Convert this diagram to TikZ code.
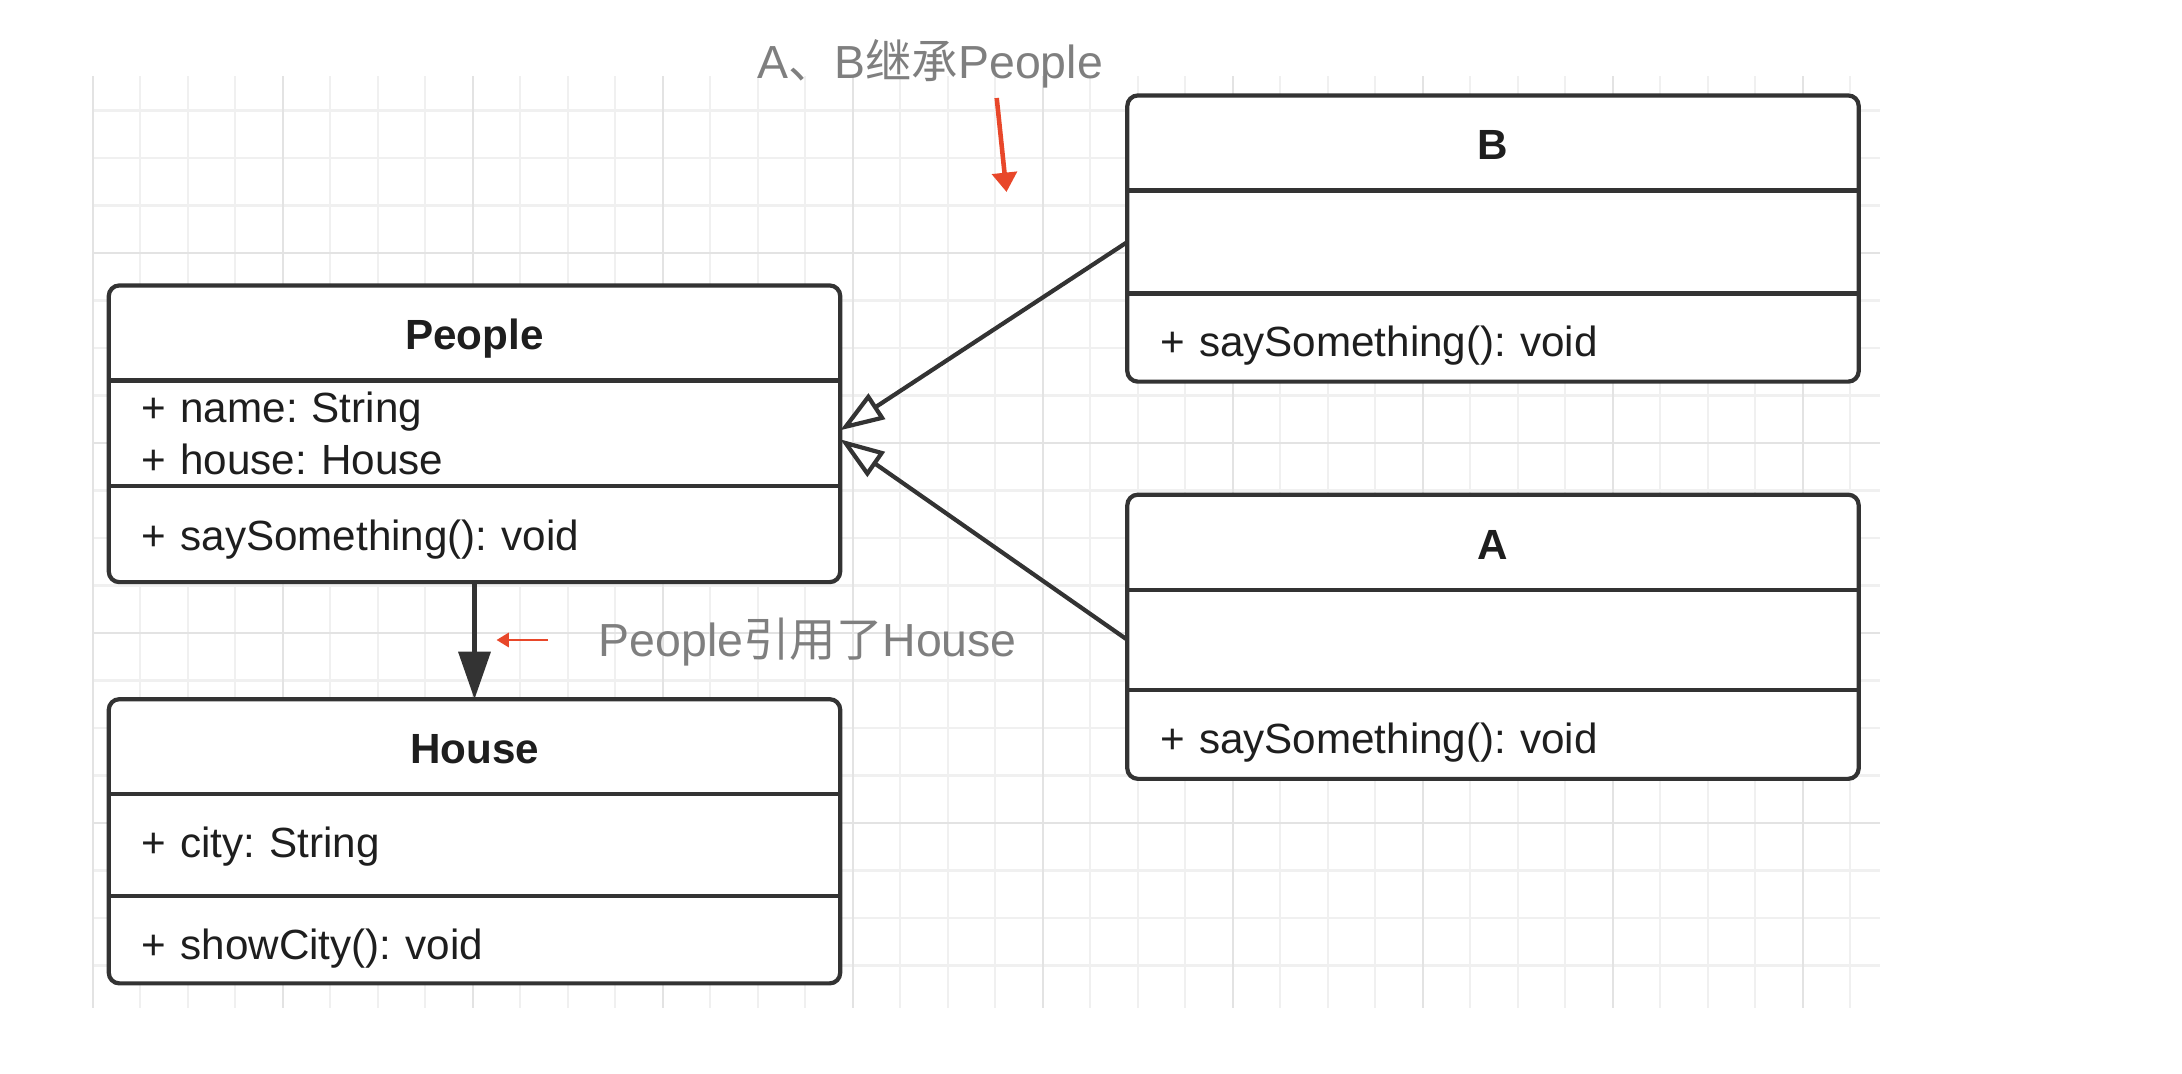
\documentclass[tikz,border=0pt]{standalone}
\usepackage{fontspec}
\setmainfont{Liberation Sans}
\newfontfamily\cjk{Noto Sans CJK SC}
\usetikzlibrary{arrows.meta,positioning,backgrounds}
\definecolor{umlline}{HTML}{333333}
\definecolor{umltext}{HTML}{1E1E1E}
\definecolor{notegray}{HTML}{7F7F7F}
\definecolor{notered}{HTML}{E8472A}
\definecolor{gridminor}{HTML}{F0F0F0}
\definecolor{gridmajor}{HTML}{E3E3E3}
\frenchspacing
\tikzset{
  classhead/.style={minimum width=7.31cm, minimum height=0.95cm, inner sep=0pt, outer sep=0pt,
    text height=10.6pt, text depth=1pt, font=\fontsize{12}{15}\selectfont\bfseries, text=umltext},
  classpart/.style={text width=6.65cm, inner xsep=0.33cm, inner ysep=0pt, outer sep=0pt,
    align=left, font=\fontsize{12}{15}\selectfont, text=umltext},
  classline/.style={classpart, text height=14pt, text depth=3pt},
  frame/.style={draw=umlline, line width=1.2pt, rounded corners=3pt},
  assoc/.style={draw=umlline, line width=1.3pt, -{Triangle[length=13.5pt, width=9pt]}},
  inherit/.style={draw=umlline, line width=1.2pt, -{Triangle[length=12.5pt, width=8.5pt, fill=white]}},
  note/.style={font=\fontsize{13.2}{15}\selectfont, text=notegray, inner sep=0pt},
  pointer/.style={draw=notered, line width=1.3pt, -{Triangle[length=5.5pt, width=7pt]}},
  gridline/.style={draw=gridminor, line width=0.6pt}
}
\begin{document}
\begin{tikzpicture}[x=0.01cm, y=-0.01cm]
\useasboundingbox (0,0) rectangle (2182,1074);

% classes
\node (people) [classhead] at (474.5,333) {People};
\node (people-a) [classpart, minimum height=1.055cm, below=0pt of people] {+ name: String\\+ house: House};
\node (people-m) [classline, text height=12.6pt, minimum height=0.96cm, below=0pt of people-a] {+ saySomething(): void};

\node (house) [classhead, below=1.17cm of people-m] {House};
\node (house-a) [classline, text height=10.2pt, minimum height=1.02cm, below=0pt of house] {+ city: String};
\node (house-m) [classline, minimum height=0.87cm, below=0pt of house-a] {+ showCity(): void};

\node (b) [classhead] at (1493,143) {B};
\node (b-a) [classline, minimum height=1.03cm, below=0pt of b] {};
\node (b-m) [classline, minimum height=0.88cm, below=0pt of b-a] {+ saySomething(): void};

\node (a) [classhead, below=1.13cm of b-m] {A};
\node (a-a) [classline, minimum height=1.0cm, below=0pt of a] {};
\node (a-m) [classline, minimum height=0.89cm, below=0pt of a-a] {+ saySomething(): void};

\begin{scope}[on background layer]
  \foreach \k in {0,...,37}
    \draw[gridline] ({92.7+47.5*\k},76.5) -- ({92.7+47.5*\k},1008);
  \foreach \k in {1,...,19}
    \draw[gridline] (92.7,{63+47.5*\k}) -- (1880,{63+47.5*\k});
  \foreach \k in {0,4,...,36}
    \draw[gridline, draw=gridmajor] ({92.7+47.5*\k},76.5) -- ({92.7+47.5*\k},1008);
  \foreach \k in {4,8,12,16}
    \draw[gridline, draw=gridmajor] (92.7,{63+47.5*\k}) -- (1880,{63+47.5*\k});
  \foreach \c in {people,house,b,a}
    \fill[white, rounded corners=3pt] (\c.north west) rectangle (\c-m.south east);
\end{scope}

\foreach \c in {people,house,b,a} {
  \draw[frame] (\c.north west) rectangle (\c-m.south east);
  \draw[frame] (\c.south west) -- (\c.south east);
  \draw[frame] (\c-a.south west) -- (\c-a.south east);
}

% relations
\draw[assoc] (people-m) -- (house);
\draw[inherit] (b-a.west) -- ([yshift=0.03cm]people-a.east);
\draw[inherit] (a-a.west) -- ([yshift=-0.06cm]people-a.east);

% notes
\node (note1) [note] at (930,64) {A{\cjk 、}B{\cjk 继承}People};
\node (note2) [note, anchor=west] at (598,642) {People{\cjk 引用了}House};
\coordinate (p1) at (996.7,98);
\coordinate (p1e) at (1006.5,192);
\coordinate (p2) at (548,640);
\coordinate (p2e) at (496.5,640);
\draw[pointer] (p1) -- (p1e);
\draw[pointer, line width=0.8pt, -{Triangle[length=3.5pt, width=4pt]}] (p2) -- (p2e);
\end{tikzpicture}
\end{document}
